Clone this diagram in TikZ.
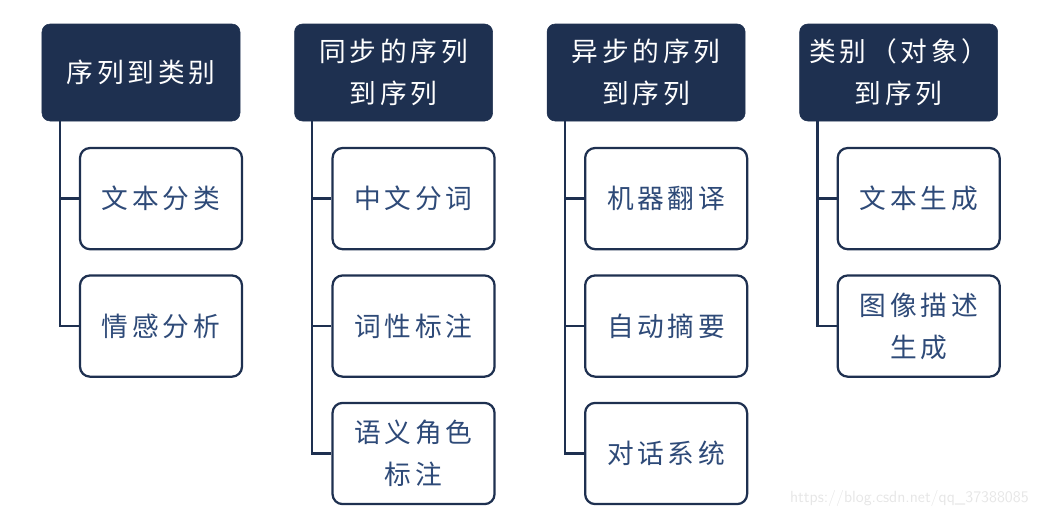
\documentclass[tikz,border=0pt]{standalone}
\usepackage{fontspec}
\usepackage{xcolor}
\usetikzlibrary{positioning}
\newfontfamily\cjk[LetterSpace=14]{Noto Sans CJK SC}
\definecolor{navy}{HTML}{1E3050}
\definecolor{leaftext}{HTML}{2E4A78}
\definecolor{wmgray}{HTML}{E6E6E6}

\begin{document}
\begin{tikzpicture}[
        head/.style={rectangle, rounded corners=0.2cm, fill=navy, draw=navy, text=white, minimum width=4.95cm, minimum height=2.425cm, align=center, font=\cjk\fontsize{19}{30}\selectfont},
        leaf/.style={rectangle, rounded corners=0.25cm, draw=navy, line width=1.6pt, fill=white, text=leaftext, minimum width=4.05cm, minimum height=2.53cm, align=center, font=\cjk\fontsize{19}{30}\selectfont},
        branch/.style={draw=navy, line width=1.6pt},
        node distance=0.6cm and 1.35cm
    ]

    \useasboundingbox (-3.525,1.8125) rectangle (22.475,-11.0875);

    % Headers
    \node[head] (H1) {序列到类别};
    \node[head, right=of H1] (H2) {同步的序列\\到序列};
    \node[head, right=of H2] (H3) {异步的序列\\到序列};
    \node[head, right=of H3] (H4) {类别（对象）\\到序列};

    % Leaves
    \node[leaf, below=0.64cm of H1, xshift=0.5cm] (L11) {文本分类};
    \node[leaf, below=of L11] (L12) {情感分析};

    \node[leaf, below=0.64cm of H2, xshift=0.5cm] (L21) {中文分词};
    \node[leaf, below=of L21] (L22) {词性标注};
    \node[leaf, below=of L22] (L23) {语义角色\\标注};

    \node[leaf, below=0.64cm of H3, xshift=0.5cm] (L31) {机器翻译};
    \node[leaf, below=of L31] (L32) {自动摘要};
    \node[leaf, below=of L32] (L33) {对话系统};

    \node[leaf, below=0.64cm of H4, xshift=0.5cm] (L41) {文本生成};
    \node[leaf, below=of L41] (L42) {图像描述\\生成};

    % Trunks
    \coordinate (T1) at ([xshift=0.45cm]H1.south west);
    \coordinate (T2) at ([xshift=0.45cm]H2.south west);
    \coordinate (T3) at ([xshift=0.45cm]H3.south west);
    \coordinate (T4) at ([xshift=0.45cm]H4.south west);

    \draw[branch] (T1) |- (L11.west);
    \draw[branch] (T1) |- (L12.west);
    \draw[branch] (T2) |- (L21.west);
    \draw[branch] (T2) |- (L22.west);
    \draw[branch] (T2) |- (L23.west);
    \draw[branch] (T3) |- (L31.west);
    \draw[branch] (T3) |- (L32.west);
    \draw[branch] (T3) |- (L33.west);
    \draw[branch] (T4) |- (L41.west);
    \draw[branch] (T4) |- (L42.west);

    % Watermark
    \node[anchor=south east, text=wmgray, font=\sffamily\fontsize{11.5}{13}\selectfont, inner sep=0pt] (wm) at (22.2,-10.85) {https://blog.csdn.net/qq\_37388085};

\end{tikzpicture}
\end{document}
